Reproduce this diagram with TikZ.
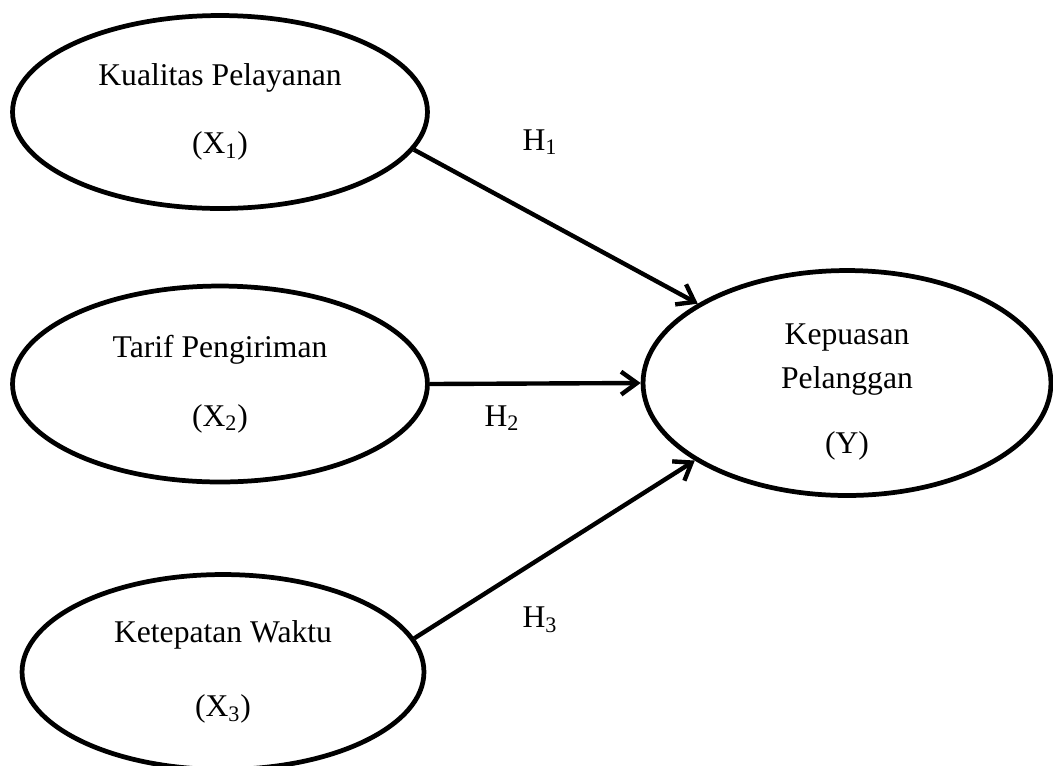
\documentclass[tikz,border=0pt]{standalone}
\usepackage{fontspec}
\setmainfont{Liberation Serif}
\usetikzlibrary{shapes.geometric, arrows.meta}

\begin{document}
\begin{tikzpicture}[x = 0.02 cm, y = -0.02 cm,
	variabel/.style = {draw, ellipse, line width = 2.7 pt, inner sep = 0 pt, align = center, font = \fontsize{18}{25}\selectfont},
	panah/.style = {line width = 2.5 pt, -{Straight Barb[length=9pt, width=13pt]}},
	hipotesis/.style = {font = \fontsize{18}{20}\selectfont}]
	\useasboundingbox (0, 0) rectangle (1053, 765);
	
	\node[variabel, minimum width = 8.3 cm, minimum height = 3.86 cm] (x1) at (220, 112) {Kualitas Pelayanan\\[14 pt](X\textsubscript{1})};
	\node[variabel, minimum width = 8.3 cm, minimum height = 3.92 cm] (x2) at (220, 384) {Tarif Pengiriman\\[14 pt](X\textsubscript{2})};
	\node[variabel, minimum width = 8.04 cm, minimum height = 3.9 cm] (x3) at (223, 672) {Ketepatan Waktu\\[17 pt](X\textsubscript{3})};
	\node[variabel, minimum width = 8.16 cm, minimum height = 4.5 cm] (y) at (847, 383) {\rule{0pt}{22pt}Kepuasan\\Pelanggan\\[12 pt](Y)};
	
	\draw[panah] (x1.-11) -- (y.152);
	\draw[panah] (x2.east) -- (y.west);
	\draw[panah] (x3.10) -- (y.207);
	
	\node[hipotesis] (h1) at (540, 142) {H\textsubscript{1}};
	\node[hipotesis] (h2) at (502, 418) {H\textsubscript{2}};
	\node[hipotesis] (h3) at (540, 620) {H\textsubscript{3}};
\end{tikzpicture}
\end{document}
